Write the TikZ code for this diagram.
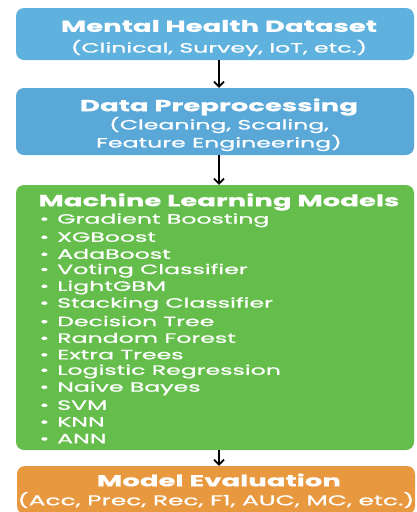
\documentclass[tikz,border=0pt]{standalone}
\usepackage{fontspec}
\usetikzlibrary{arrows.meta}
\newfontfamily\headfont[FakeStretch=1.72,FakeBold=0.6]{Poppins}
\newfontfamily\bodyfont[FakeStretch=1.75,FakeBold=0.9]{Poppins}
\definecolor{dsblue}{RGB}{96,178,222}
\definecolor{ppblue}{RGB}{90,168,216}
\definecolor{mlgreen}{RGB}{101,190,76}
\definecolor{evorange}{RGB}{232,152,62}
\tikzset{
  box/.style={rounded corners=8pt, minimum width=398pt, inner sep=0pt},
  ttl/.style={text=white, font=\headfont\bfseries\fontsize{16}{18}\selectfont},
  sub/.style={text=white, font=\bodyfont\fontsize{13.5}{18}\selectfont, align=center},
  item/.style={text=white, font=\bodyfont\fontsize{13.5}{15}\selectfont, anchor=west},
  flow/.style={-{Straight Barb[length=5pt,width=10pt]}, line width=1.8pt, black}
}
\begin{document}
\begin{tikzpicture}[x=1pt,y=1pt]
  \useasboundingbox (0,0) rectangle (416,-512);
  % boxes
  \node[box, fill=dsblue, minimum height=52pt] (data) at (215,-34) {};
  \node[box, fill=ppblue, minimum height=67pt] (prep) at (215,-121.5) {};
  \node[box, fill=mlgreen, minimum height=265pt] (ml) at (215,-317.5) {};
  \node[box, fill=evorange, minimum height=48pt] (eval) at (216,-490) {};
  % titles
  \node[ttl] (t1) at (219,-26) {Mental Health Dataset};
  \node[sub] (s1) at (219,-48) {(Clinical, Survey, IoT, etc.)};
  \node[ttl] (t2) at (219,-107) {Data Preprocessing};
  \node[sub] (s2) at (219,-134) {(Cleaning, Scaling,\\Feature Engineering)};
  \node[ttl] (t3) at (219,-202) {Machine Learning Models};
  \node[ttl] (t4) at (219,-480) {Model Evaluation};
  \node[sub, font=\bodyfont\fontsize{14.2}{18}\selectfont] (s4) at (216,-500) {(Acc, Prec, Rec, F1, AUC, MC, etc.)};
  % model list
  \foreach \name [count=\i] in {Gradient Boosting, XGBoost, AdaBoost,
      Voting Classifier, LightGBM, Stacking Classifier, Decision Tree,
      Random Forest, Extra Trees, Logistic Regression, Naive Bayes,
      SVM, KNN, ANN}
    \node[item] (m\i) at (36,-203.5-16.8*\i) {\textbullet\hspace{8pt}\name};
  % arrows
  \draw[flow] (data.south -| t1) -- (prep.north -| t1);
  \draw[flow] (prep.south -| t1) -- (ml.north -| t1);
  \draw[flow] (ml.south -| t1) -- (eval.north -| t1);
\end{tikzpicture}
\end{document}
